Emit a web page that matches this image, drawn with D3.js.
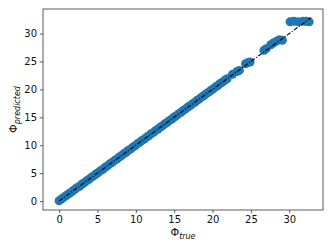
<!DOCTYPE html>
<html>
<head>
<meta charset="utf-8">
<script src="https://cdn.jsdelivr.net/npm/d3@7"></script>
<style>
  body { margin: 0; background: #fff; }
  text { font-family: "DejaVu Sans", sans-serif; }
</style>
</head>
<body>
<svg id="chartSVG" width="333" height="249"></svg>
<script>
// values: Phi_true vs Phi_predicted
const phiTrue = [
  0, 0.3, 0.6, 0.9, 1.2, 1.5, 1.8, 2.1, 2.4, 2.7, 3.0, 3.3, 3.6, 3.9, 4.2, 4.5,
  4.8, 5.1, 5.4, 5.7, 6.0, 6.3, 6.6, 6.9, 7.2, 7.5, 7.8, 8.1, 8.4, 8.7, 9.0,
  9.3, 9.6, 9.9, 10.2, 10.5, 10.8, 11.1, 11.4, 11.7, 12.0, 12.3, 12.6, 12.9,
  13.2, 13.5, 13.8, 14.1, 14.4, 14.7, 15.0, 15.3, 15.6, 15.9, 16.2, 16.5,
  16.8, 17.1, 17.4, 17.7, 18.0, 18.3, 18.6, 18.9, 19.2, 19.5, 19.8, 20.1,
  20.4, 20.7, 21.0, 21.3, 21.6, 21.9,
  22.6, 23.2, 23.5, 24.3, 24.6, 24.9, 26.7, 27.0, 27.6, 27.9, 28.3, 28.7, 29.1,
  30.1, 30.6, 31.2, 31.8, 32.2, 32.6
];
const phiPred = [
  0.05, 0.35, 0.65, 0.95, 1.25, 1.5, 1.85, 2.15, 2.45, 2.7, 3.05, 3.3, 3.65, 3.9,
  4.25, 4.5, 4.85, 5.1, 5.45, 5.7, 6.05, 6.3, 6.65, 6.9, 7.25, 7.5, 7.85, 8.1,
  8.45, 8.7, 9.05, 9.3, 9.65, 9.9, 10.25, 10.5, 10.85, 11.1, 11.45, 11.7, 12.05,
  12.3, 12.65, 12.9, 13.25, 13.5, 13.85, 14.1, 14.45, 14.7, 15.05, 15.3, 15.65,
  15.9, 16.25, 16.5, 16.85, 17.1, 17.45, 17.7, 18.05, 18.3, 18.65, 18.9, 19.25,
  19.5, 19.85, 20.1, 20.45, 20.7, 21.05, 21.3, 21.65, 21.9,
  22.7, 23.2, 23.4, 24.6, 24.8, 24.9, 27.0, 27.3, 28.0, 28.3, 28.6, 28.9, 28.8,
  32.1, 32.2, 32.1, 32.2, 32.2, 32.1
];
const xTicks = [0, 5, 10, 15, 20, 25, 30];
const yTicks = [0, 5, 10, 15, 20, 25, 30];
const refLine = [0, 32.8];

const margin = { top: 9, right: 10, bottom: 39, left: 43 };
const width = 333 - margin.left - margin.right;
const height = 249 - margin.top - margin.bottom;

const svg = d3.select("#chartSVG");
const g = svg.append("g").attr("transform", `translate(${margin.left},${margin.top})`);

const x = d3.scaleLinear().domain([-2.1, 34.4]).range([0, width]);
const y = d3.scaleLinear().domain([-1.6, 34.4]).range([height, 0]);

// scatter points
const pts = phiTrue.map((d, i) => ({ t: d, p: phiPred[i] }));
g.append("g")
  .selectAll("circle")
  .data(pts)
  .enter()
  .append("circle")
  .attr("cx", d => x(d.t))
  .attr("cy", d => y(d.p))
  .attr("r", 4.5)
  .attr("fill", "#1f77b4");

// y = x reference line
g.append("line")
  .attr("x1", x(refLine[0]))
  .attr("y1", y(refLine[0]))
  .attr("x2", x(refLine[1]))
  .attr("y2", y(refLine[1]))
  .attr("stroke", "#000")
  .attr("stroke-width", 1.1)
  .attr("stroke-dasharray", "4.5,1.6,1.1,1.6");

// axes
const xAxis = d3.axisBottom(x).tickValues(xTicks).tickSize(3).tickPadding(3);
const yAxis = d3.axisLeft(y).tickValues(yTicks).tickSize(3).tickPadding(3);

const gx = g.append("g").attr("transform", `translate(0,${height})`).call(xAxis);
const gy = g.append("g").call(yAxis);
[gx, gy].forEach(a => {
  a.select(".domain").remove();
  a.selectAll("line").attr("stroke", "#333").attr("stroke-width", 0.8);
  a.selectAll("text").attr("font-size", 10).attr("fill", "#111")
    .attr("font-family", "DejaVu Sans");
});

// frame
g.append("rect")
  .attr("width", width)
  .attr("height", height)
  .attr("fill", "none")
  .attr("stroke", "#333")
  .attr("stroke-width", 0.8);

// axis labels
const xl = svg.append("text")
  .attr("x", margin.left + width / 2)
  .attr("y", 236)
  .attr("text-anchor", "middle")
  .attr("font-size", 11)
  .attr("fill", "#111");
xl.append("tspan").text("Φ");
xl.append("tspan").attr("font-size", 8).attr("font-style", "italic").attr("dy", 2.5).text("true");

const yl = svg.append("text")
  .attr("transform", `translate(17,${margin.top + height / 2}) rotate(-90)`)
  .attr("text-anchor", "middle")
  .attr("font-size", 11)
  .attr("fill", "#111");
yl.append("tspan").text("Φ");
yl.append("tspan").attr("font-size", 8).attr("font-style", "italic").attr("dy", 2.5).text("predicted");
</script>
</body>
</html>
